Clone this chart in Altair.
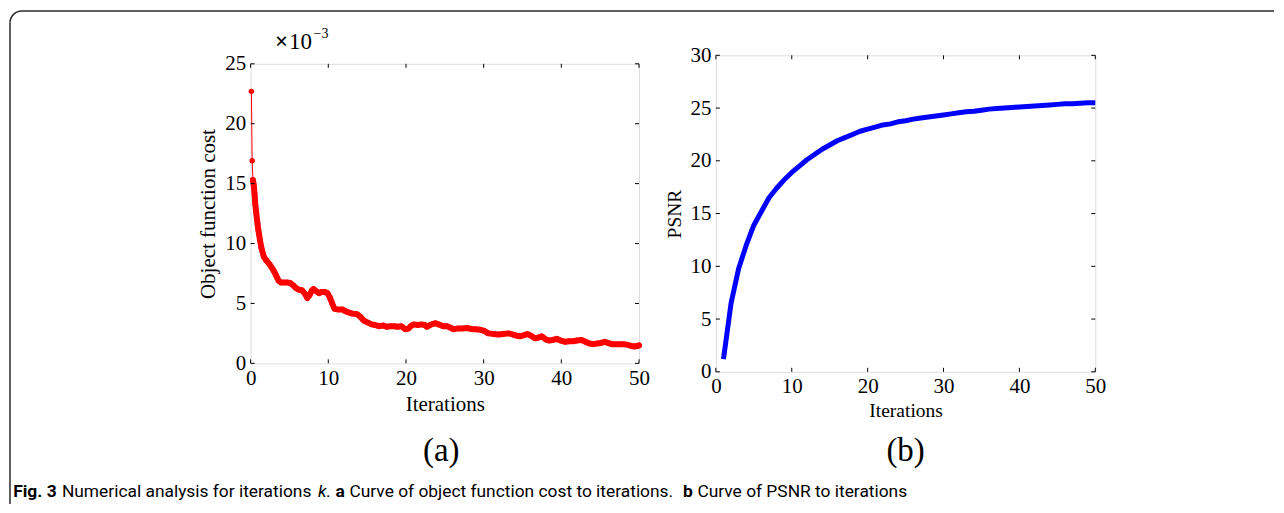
import altair as alt
import pandas as pd

# ---------------- data ----------------
cost_iter = [0.1, 0.2, 0.3, 0.4, 0.5, 0.6, 0.7, 0.8, 0.9, 1.0, 1.2, 1.4, 1.7, 2.0, 2.4, 2.7,
             3.0, 3.3, 3.6, 3.9, 4.3, 4.7, 5.1, 5.5, 5.8, 6.2, 6.6, 7.0, 7.3, 7.6, 7.9, 8.1,
             8.5, 8.8, 9.1, 9.6, 9.9, 10.2, 10.5, 10.8, 11.3, 11.8, 12.2, 12.6, 13.1, 13.7,
             14.1, 14.6, 15.1, 15.6, 16.0, 16.5, 17.1, 17.5, 18.0, 18.5, 18.9, 19.4, 19.9,
             20.3, 20.7, 21.0, 21.5, 22.0, 22.4, 22.7, 23.1, 23.5, 23.8, 24.2, 24.8, 25.3,
             25.8, 26.1, 26.6, 27.2, 27.9, 28.5, 29.0, 29.6, 30.1, 30.6, 31.3, 31.9, 32.5,
             33.2, 33.8, 34.3, 34.7, 35.2, 35.6, 36.0, 36.6, 37.1, 37.5, 38.0, 38.4, 38.9,
             39.4, 39.9, 40.5, 41.0, 41.5, 42.0, 42.6, 43.1, 43.6, 44.1, 44.6, 45.1, 45.6,
             46.0, 46.5, 47.0, 47.5, 48.0, 48.5, 49.0, 49.4, 49.8, 50.0]
cost_val = [22.7, 16.9, 15.3, 14.9, 14.2, 13.3, 12.7, 12.1, 11.6, 11.1, 10.3, 9.6, 8.9, 8.6,
            8.3, 8.0, 7.7, 7.3, 6.9, 6.75, 6.75, 6.75, 6.7, 6.5, 6.3, 6.15, 6.1, 5.8, 5.45,
            5.7, 6.1, 6.2, 6.0, 5.85, 5.95, 5.95, 5.85, 5.5, 5.0, 4.55, 4.5, 4.5, 4.35, 4.25,
            4.15, 4.1, 3.9, 3.55, 3.4, 3.25, 3.2, 3.1, 3.15, 3.05, 3.1, 3.1, 3.05, 3.1, 2.85,
            2.9, 3.15, 3.25, 3.2, 3.25, 3.2, 3.05, 3.2, 3.3, 3.35, 3.25, 3.1, 3.1, 2.95, 2.85,
            2.9, 2.9, 2.95, 2.85, 2.85, 2.8, 2.7, 2.5, 2.45, 2.4, 2.45, 2.5, 2.4, 2.3, 2.25,
            2.35, 2.45, 2.35, 2.1, 2.15, 2.25, 2.0, 1.9, 1.95, 2.05, 1.9, 1.8, 1.85, 1.85,
            1.9, 1.95, 1.8, 1.65, 1.6, 1.65, 1.7, 1.8, 1.7, 1.6, 1.6, 1.6, 1.6, 1.55, 1.45,
            1.4, 1.45, 1.5]

psnr_iter = list(range(1, 51))
psnr_val = [1.2, 6.5, 9.8, 12.0, 13.9, 15.2, 16.5, 17.4, 18.2, 18.9,
            19.5, 20.1, 20.6, 21.1, 21.5, 21.9, 22.2, 22.5, 22.8, 23.0,
            23.2, 23.4, 23.5, 23.7, 23.8, 23.95, 24.05, 24.15, 24.25, 24.35,
            24.45, 24.55, 24.65, 24.7, 24.8, 24.9, 24.95, 25.0, 25.05, 25.1,
            25.15, 25.2, 25.25, 25.3, 25.35, 25.4, 25.4, 25.45, 25.5, 25.5]

x_ticks = [0, 10, 20, 30, 40, 50]
cost_ticks = [0, 5, 10, 15, 20, 25]
psnr_ticks = [0, 5, 10, 15, 20, 25, 30]

# ---------------- styling ----------------
SERIF = "Liberation Serif"
SANS = "Roboto, Open Sans, sans-serif"
CAP = 17.4
W_A, H_A = 389, 300
W_B, H_B = 380, 317
TICK = 4
FRAME = "#2a2a2a"

cost_df = pd.DataFrame({"it": cost_iter, "v": cost_val})
psnr_df = pd.DataFrame({"it": psnr_iter, "v": psnr_val})


def x_axis(title, tsize, lpad, tpad):
    return alt.Axis(values=x_ticks, ticks=False, tickSize=0, domain=False, grid=False,
                    labelFont=SERIF, labelFontSize=21, labelColor="black", labelPadding=lpad,
                    title=title, titleFont=SERIF, titleFontSize=tsize, titleFontWeight="normal",
                    titleColor="black", titlePadding=tpad, labelFlush=False, labelOverlap=False)


def y_axis(values, title, tsize, lpad, tpad):
    return alt.Axis(values=values, ticks=False, tickSize=0, domain=False, grid=False,
                    labelFont=SERIF, labelFontSize=21, labelColor="black", labelPadding=lpad,
                    title=title, titleFont=SERIF, titleFontSize=tsize, titleFontWeight="normal",
                    titleColor="black", titlePadding=tpad, labelFlush=False, labelOverlap=False)


def inner_ticks(xvals, yvals, w, h, xscale, yscale):
    xt = alt.Chart(pd.DataFrame({"it": xvals}))
    yt = alt.Chart(pd.DataFrame({"v": yvals}))
    X = alt.X("it:Q", scale=xscale)
    Y = alt.Y("v:Q", scale=yscale)
    return [
        xt.mark_rule(color="black", strokeWidth=1).encode(x=X, y=alt.value(h), y2=alt.value(h - TICK)),
        xt.mark_rule(color="black", strokeWidth=1).encode(x=X, y=alt.value(0), y2=alt.value(TICK)),
        yt.mark_rule(color="black", strokeWidth=1).encode(y=Y, x=alt.value(0), x2=alt.value(TICK)),
        yt.mark_rule(color="black", strokeWidth=1).encode(y=Y, x=alt.value(w - TICK), x2=alt.value(w)),
    ]


def note(text, x, y, size, font=SERIF, weight="normal", style="normal", align="left",
         baseline="alphabetic", color="black"):
    return alt.Chart(alt.Data(values=[{}])).mark_text(
        text=text, font=font, fontSize=size, fontWeight=weight, fontStyle=style,
        align=align, baseline=baseline, color=color
    ).encode(x=alt.value(x), y=alt.value(y))


# ---------------- panel (a) ----------------
xs_a = alt.Scale(domain=[0, 50], nice=False, zero=False)
ys_a = alt.Scale(domain=[0, 25], nice=False)
base_a = alt.Chart(cost_df)
enc_a = dict(
    x=alt.X("it:Q", scale=xs_a, axis=x_axis("Iterations", 21, 4, 5)),
    y=alt.Y("v:Q", scale=ys_a, axis=y_axis(cost_ticks, "Object function cost", 21, 5, 6)),
)
thin_a = base_a.mark_line(color="#ff0000", strokeWidth=1).encode(**enc_a)
thick_a = base_a.mark_line(color="#ff0000", strokeWidth=6, strokeJoin="round",
                           strokeCap="round").encode(**enc_a).transform_filter("datum.it >= 0.3")
pts_a = base_a.mark_circle(color="#ff0000", size=30, opacity=1).encode(**enc_a)

# frame + captions (decoration, positioned relative to panel (a) origin)
frame = [
    alt.Chart(alt.Data(values=[{}])).mark_rule(color=FRAME, strokeWidth=1.5).encode(
        x=alt.value(-241), y=alt.value(-41), y2=alt.value(441)),
    alt.Chart(alt.Data(values=[{}])).mark_rule(color=FRAME, strokeWidth=1.5).encode(
        x=alt.value(-229), x2=alt.value(1025), y=alt.value(-53)),
    alt.Chart(alt.Data(values=[{}])).mark_arc(color=FRAME, radius=12.75, radius2=11.25,
                                             theta=4.712389, theta2=6.283185).encode(
        x=alt.value(-229), y=alt.value(-41)),
]
CY = 434
notes = [
    note("×", 24.5, -14.5, 23, weight="bold"),
    note("10", 38.5, -14.5, 23),
    note("−3", 63, -25.5, 14),
    note("(a)", 191, 398, 33, align="center"),
    note("(b)", 656, 398, 33, align="center"),
    note("Fig. 3", -237.75, CY, CAP, font=SANS, weight="bold"),
    note("Numerical analysis for iterations", -189, CY, CAP, font=SANS),
    note("k", 67.5, CY, CAP, font=SANS, style="italic"),
    note(".", 75.5, CY, CAP, font=SANS),
    note("a", 85, CY, CAP, font=SANS, weight="bold"),
    note("Curve of object function cost to iterations.", 99, CY, CAP, font=SANS),
    note("b", 433, CY, CAP, font=SANS, weight="bold"),
    note("Curve of PSNR to iterations", 447.5, CY, CAP, font=SANS),
]

panel_a = alt.layer(
    thin_a, thick_a, pts_a, *inner_ticks(x_ticks, cost_ticks, W_A, H_A, xs_a, ys_a),
    *frame, *notes
).properties(width=W_A, height=H_A)

# ---------------- panel (b) ----------------
xs_b = alt.Scale(domain=[0, 50], nice=False, zero=False)
ys_b = alt.Scale(domain=[0, 30], nice=False)
line_b = alt.Chart(psnr_df).mark_line(color="#0000ff", strokeWidth=5, strokeJoin="round").encode(
    x=alt.X("it:Q", scale=xs_b, axis=x_axis("Iterations", 19.5, 4, 5)),
    y=alt.Y("v:Q", scale=ys_b, axis=y_axis(psnr_ticks, "PSNR", 19.5, 5, 5)),
)
panel_b = alt.layer(
    line_b, *inner_ticks(x_ticks, psnr_ticks, W_B, H_B, xs_b, ys_b)
).properties(width=W_B, height=H_B)

chart = alt.hconcat(panel_a, panel_b, spacing=77, center=True, bounds="flush").properties(
    padding={"left": 0, "top": 1, "right": 0, "bottom": 0}
).configure_view(stroke="black", strokeWidth=1).configure(background="white")

chart.save("out.html", embed_options={"renderer": "svg", "actions": False})
